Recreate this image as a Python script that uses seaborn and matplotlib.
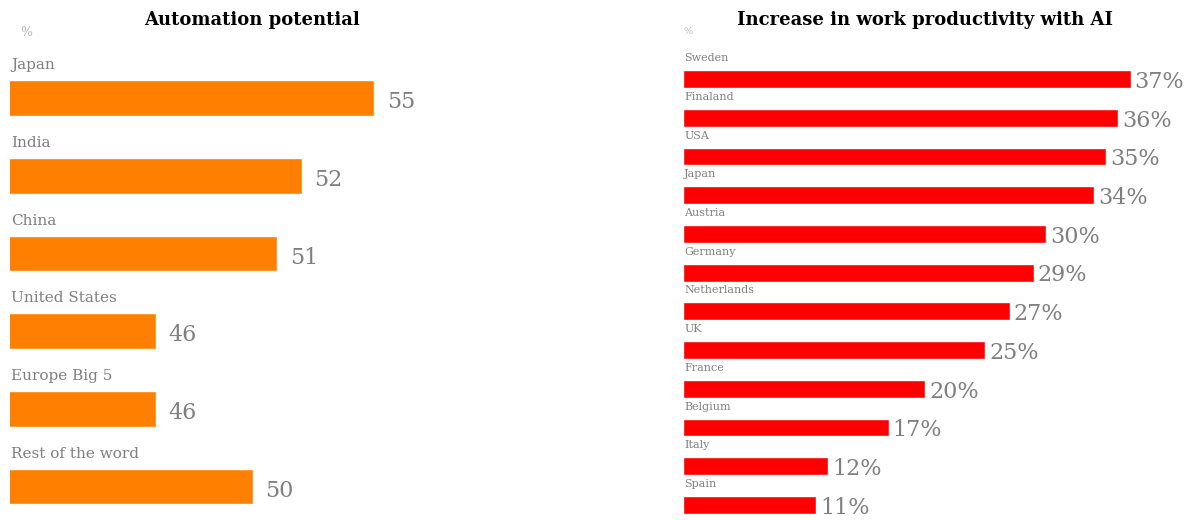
import matplotlib
matplotlib.use('Agg')
import matplotlib.pyplot as plt
import seaborn as sns
import pandas as pd

# данные
auto_regions = ['Japan', 'India', 'China', 'United States', 'Europe Big 5', 'Rest of the word']
auto_values = [55, 52, 51, 46, 46, 50]

prod_countries = ['Sweden', 'Finaland', 'USA', 'Japan', 'Austria', 'Germany',
                  'Netherlands', 'UK', 'France', 'Belgium', 'Italy', 'Spain']
prod_values = [37, 36, 35, 34, 30, 29, 27, 25, 20, 17, 12, 11]

sns.set_style('white')
plt.rcParams['font.family'] = ['DejaVu Serif']

W, H = 1195, 520
fig = plt.figure(figsize=(W / 100, H / 100), dpi=100)

grey = '#7f7f7f'
light = '#b5b5b5'

# левый график
df1 = pd.DataFrame({'region': auto_regions, 'value': auto_values})
ax1 = fig.add_axes([10 / W, 1 - 509.8 / H, 413 / W, (509.8 - 35.8) / H])
sns.barplot(data=df1, y='region', x='value', orient='h', color='#ff7f00',
            saturation=1, width=0.46, ax=ax1)
ax1.set_xlim(40, 57)
ax1.set_ylim(5.3, -0.8)
for i, (name, v) in enumerate(zip(auto_regions, auto_values)):
    ax1.text(40.05, i - 0.42, name, ha='left', va='center', fontsize=11, color=grey)
    ax1.annotate(str(v), (v, i), xytext=(9, -3), textcoords='offset points',
                 ha='left', va='center', fontsize=16, color=grey)

# правый график
df2 = pd.DataFrame({'country': prod_countries, 'value': prod_values})
ax2 = fig.add_axes([683 / W, 1 - 518.5 / H, 508 / W, (518.5 - 44.2) / H])
sns.barplot(data=df2, y='country', x='value', orient='h', color='#ff0000',
            saturation=1, width=0.46, ax=ax2)
ax2.set_xlim(0, 42)
ax2.set_ylim(11.35, -0.9)
for i, (name, v) in enumerate(zip(prod_countries, prod_values)):
    ax2.text(0.1, i - 0.54, name, ha='left', va='center', fontsize=8, color=grey)
    ax2.annotate(f'{v}%', (v, i), xytext=(3, -2), textcoords='offset points',
                 ha='left', va='center', fontsize=16, color=grey)

for ax in (ax1, ax2):
    ax.set_xlabel('')
    ax.set_ylabel('')
    ax.set_xticks([])
    ax.set_yticks([])
    sns.despine(ax=ax, left=True, bottom=True)

fig.text(252 / W, 1 - 20 / H, 'Automation potential', ha='center', va='center',
         fontsize=13, fontweight='bold', color='black')
fig.text(925 / W, 1 - 20 / H, 'Increase in work productivity with AI', ha='center',
         va='center', fontsize=13, fontweight='bold', color='black')
fig.text(20 / W, 1 - 32 / H, '%', ha='left', va='center', fontsize=9, color=light)
fig.text(684 / W, 1 - 31 / H, '%', ha='left', va='center', fontsize=7, color=light)

fig.savefig('out.png', dpi=100)
